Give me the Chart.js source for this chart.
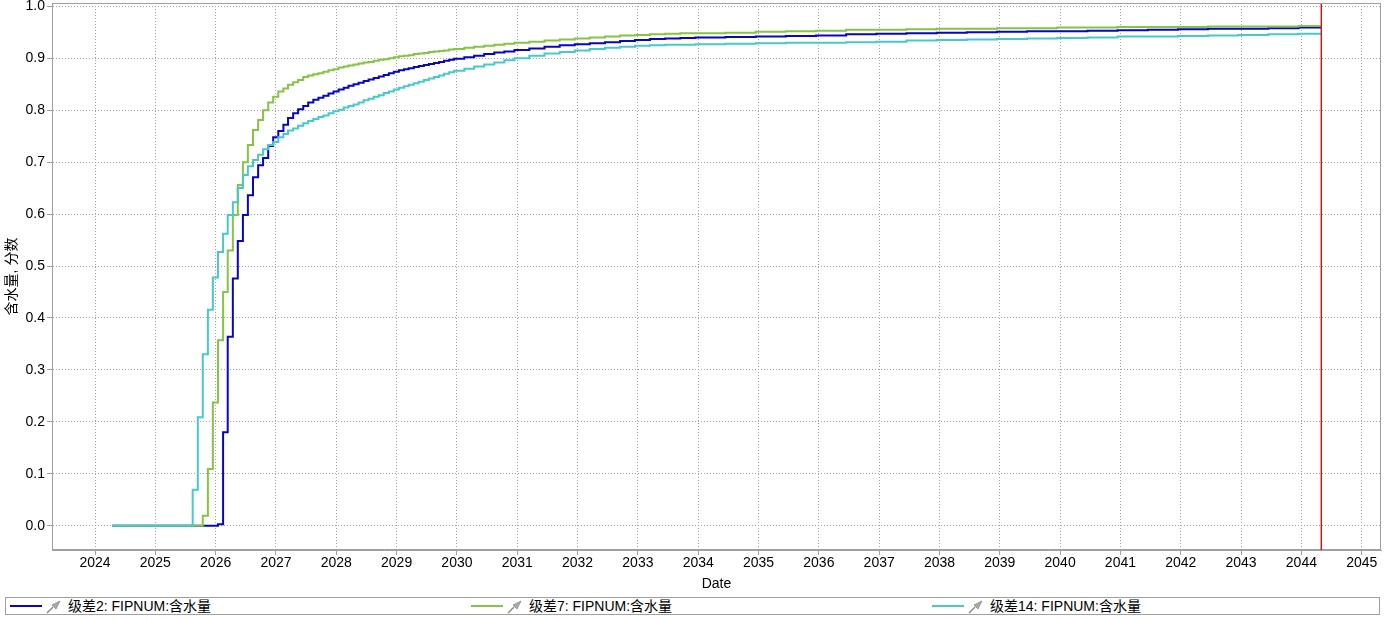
<!DOCTYPE html>
<html>
<head>
<meta charset="utf-8">
<script src="https://cdn.jsdelivr.net/npm/chart.js@4"></script>
<style>
  body { margin: 0; background: #fff; font-family: "Liberation Sans", Arial, "Noto Sans CJK SC", sans-serif; }
  #wrap { position: relative; width: 1384px; height: 620px; }
  #legend { position: absolute; left: 5px; top: 597px; width: 1373px; height: 16px; border: 1px solid #a0a0a0; }
  .item { position: absolute; top: 0; height: 16px; font-size: 14px; line-height: 16px; color: #000; white-space: nowrap; }
  .item .ln { position: absolute; left: 0; top: 7px; width: 32px; height: 2px; }
  .item svg { position: absolute; left: 36px; top: 1px; }
  .item span { position: absolute; left: 58px; top: 0; }
</style>
</head>
<body>
<div id="wrap">
  <canvas id="myChart" width="1384" height="595"></canvas>
  <div id="legend"></div>
</div>
<script>
/* globals Chart:false */

// report dates: monthly while the cut rises, sparser where it is flat
const dates = [
  "2024-04-15",
  "2025-07-15", "2025-08-15", "2025-09-15", "2025-10-15", "2025-11-15", "2025-12-15",
  "2026-01-15", "2026-02-15", "2026-03-15", "2026-04-15", "2026-05-15", "2026-06-15",
  "2026-07-15", "2026-08-15", "2026-09-15", "2026-10-15", "2026-11-15", "2026-12-15",
  "2027-01-15", "2027-02-15", "2027-03-15", "2027-04-15", "2027-05-15", "2027-06-15",
  "2027-07-15", "2027-08-15", "2027-09-15", "2027-10-15", "2027-11-15", "2027-12-15",
  "2028-01-15", "2028-02-15", "2028-03-15", "2028-04-15", "2028-05-15", "2028-06-15",
  "2028-07-15", "2028-08-15", "2028-09-15", "2028-10-15", "2028-11-15", "2028-12-15",
  "2029-01-15", "2029-02-15", "2029-03-15", "2029-04-15", "2029-05-15", "2029-06-15",
  "2029-07-15", "2029-08-15", "2029-09-15", "2029-10-15", "2029-11-15", "2029-12-15",
  "2030-02-15", "2030-04-15", "2030-06-15", "2030-08-15", "2030-10-15", "2030-12-15",
  "2031-03-15", "2031-06-15", "2031-09-15", "2031-12-15",
  "2032-03-15", "2032-06-15", "2032-09-15", "2032-12-15",
  "2033-03-15", "2033-06-15", "2033-09-15", "2033-12-15",
  "2034-06-15", "2034-12-15", "2035-06-15", "2035-12-15", "2036-06-15", "2036-12-15",
  "2037-06-15", "2037-12-15", "2038-06-15", "2038-12-15", "2039-06-15", "2039-12-15",
  "2040-06-15", "2040-12-15", "2041-06-15", "2041-12-15", "2042-06-15", "2042-12-15",
  "2043-06-15", "2043-12-15", "2044-04-27",
];

const wcut2 = [
  0,
  0, 0, 0, 0, 0, 0,
  0.003, 0.18, 0.364, 0.476, 0.548, 0.598,
  0.636, 0.671, 0.694, 0.708, 0.731, 0.748,
  0.760, 0.772, 0.785, 0.794, 0.802, 0.808,
  0.815, 0.820, 0.824, 0.828, 0.832, 0.836,
  0.840, 0.843, 0.847, 0.850, 0.853, 0.856,
  0.859, 0.862, 0.865, 0.868, 0.871, 0.874,
  0.877, 0.879, 0.881, 0.883, 0.885, 0.887,
  0.889, 0.891, 0.893, 0.895, 0.897, 0.899,
  0.902, 0.905, 0.908, 0.911, 0.913, 0.916,
  0.919, 0.922, 0.925, 0.927,
  0.929, 0.931, 0.933, 0.935,
  0.937, 0.938, 0.939, 0.940,
  0.941, 0.942, 0.943, 0.944, 0.946, 0.947,
  0.948, 0.949, 0.950, 0.951, 0.952, 0.952,
  0.953, 0.954, 0.955, 0.956, 0.957, 0.957,
  0.958, 0.959, 0.960,
];

const wcut7 = [
  0,
  0, 0, 0, 0.019, 0.109, 0.237,
  0.357, 0.45, 0.53, 0.598, 0.656, 0.70,
  0.733, 0.762, 0.781, 0.80, 0.815, 0.826,
  0.836, 0.842, 0.849, 0.854, 0.858, 0.864,
  0.867, 0.869, 0.871, 0.874, 0.877, 0.879,
  0.882, 0.884, 0.886, 0.888, 0.890, 0.892,
  0.893, 0.895, 0.897, 0.898, 0.900, 0.902,
  0.904, 0.905, 0.906, 0.908, 0.909, 0.910,
  0.912, 0.913, 0.914, 0.915, 0.917, 0.918,
  0.920, 0.922, 0.924, 0.926, 0.928, 0.930,
  0.932, 0.934, 0.936, 0.938,
  0.940, 0.942, 0.944, 0.945,
  0.946, 0.947, 0.948, 0.948,
  0.949, 0.951, 0.952, 0.953, 0.955, 0.955,
  0.956, 0.957, 0.957, 0.958, 0.958, 0.959,
  0.959, 0.960, 0.960, 0.960, 0.961, 0.961,
  0.961, 0.962, 0.962,
];

const wcut14 = [
  0,
  0, 0.069, 0.209, 0.33, 0.416, 0.478,
  0.527, 0.562, 0.598, 0.623, 0.65, 0.675,
  0.692, 0.704, 0.714, 0.725, 0.733, 0.739,
  0.748, 0.754, 0.761, 0.765, 0.770, 0.775,
  0.779, 0.783, 0.787, 0.790, 0.794, 0.798,
  0.801, 0.805, 0.808, 0.811, 0.815, 0.819,
  0.822, 0.826, 0.829, 0.833, 0.836, 0.840,
  0.843, 0.846, 0.849, 0.852, 0.855, 0.858,
  0.861, 0.864, 0.867, 0.870, 0.873, 0.876,
  0.880, 0.884, 0.888, 0.892, 0.896, 0.900,
  0.905, 0.909, 0.912, 0.915,
  0.918, 0.920, 0.922, 0.924,
  0.925, 0.926, 0.926, 0.927,
  0.928, 0.929, 0.930, 0.930, 0.931, 0.932,
  0.934, 0.935, 0.936, 0.937, 0.938, 0.939,
  0.940, 0.942, 0.942, 0.943, 0.944, 0.945,
  0.946, 0.947, 0.949,
];

const seriesNames = ["级差2: FIPNUM:含水量", "级差7: FIPNUM:含水量", "级差14: FIPNUM:含水量"];
const seriesColors = ["#0606c4", "#86c443", "#48c9c9"];
const yearTicks = [2024, 2025, 2026, 2027, 2028, 2029, 2030, 2031, 2032, 2033, 2034,
  2035, 2036, 2037, 2038, 2039, 2040, 2041, 2042, 2043, 2044, 2045];
const valueTicks = [0, 0.1, 0.2, 0.3, 0.4, 0.5, 0.6, 0.7, 0.8, 0.9, 1.0];

(() => {
  "use strict";

  // "YYYY-MM-DD" -> decimal year
  const toYear = (s) => {
    const [y, m, d] = s.split("-").map(Number);
    const t0 = Date.UTC(y, 0, 1);
    const t1 = Date.UTC(y + 1, 0, 1);
    return y + (Date.UTC(y, m - 1, d) - t0) / (t1 - t0);
  };
  const xs = dates.map(toYear);
  const endYear = xs[xs.length - 1];

  const pts = (vals) => vals.map((v, i) => ({ x: xs[i], y: v }));
  const allSeries = [wcut2, wcut7, wcut14];

  const font = { family: "'Liberation Sans', Arial, 'Noto Sans CJK SC'", size: 14 };

  // frame around the plot + red line at the end of the run
  const framePlugin = {
    id: "frame",
    afterDraw(chart) {
      const { ctx, chartArea: a, scales } = chart;
      ctx.save();
      ctx.strokeStyle = "#a0a0a0";
      ctx.lineWidth = 1;
      ctx.strokeRect(a.left + 0.5, a.top + 0.5, a.right - a.left - 1, a.bottom - a.top - 1);
      const xr = Math.round(scales.x.getPixelForValue(endYear));
      const h = a.bottom - a.top - 1;
      ctx.fillStyle = "rgba(224, 16, 16, 0.45)";
      ctx.fillRect(xr - 1, a.top + 1, 1, h);
      ctx.fillStyle = "#e01010";
      ctx.fillRect(xr, a.top + 1, 1, h);
      ctx.restore();
    },
  };

  const grid = {
    color: "#a4a4a4",
    tickLength: 5,
    tickColor: "#a0a0a0",
    tickBorderDash: [],
  };
  const border = { color: "#a0a0a0", dash: [1, 2] };

  const ctx = document.getElementById("myChart");
  // eslint-disable-next-line no-unused-vars
  const myChart = new Chart(ctx, {
    type: "line",
    data: {
      datasets: allSeries.map((vals, i) => ({
        label: seriesNames[i],
        data: pts(vals),
        stepped: "before",
        borderColor: seriesColors[i],
        backgroundColor: seriesColors[i],
        borderWidth: 2,
        pointRadius: 0,
        fill: false,
        order: 2 - i,
      })),
    },
    options: {
      responsive: false,
      animation: false,
      layout: { padding: { left: 0, top: 3, right: 3, bottom: 0 } },
      plugins: {
        legend: { display: false },
        tooltip: { enabled: false },
      },
      scales: {
        x: {
          type: "linear",
          min: xs[0] - 1,
          max: endYear + 1,
          grid,
          border,
          afterBuildTicks: (s) => { s.ticks = yearTicks.map((v) => ({ value: v })); },
          afterFit: (s) => { s.height = 45; s.paddingLeft = 0; s.paddingRight = 0; },
          ticks: { font, color: "#000", padding: 0, maxRotation: 0, autoSkip: false, callback: (v) => String(v) },
          title: { display: true, text: "Date", font, color: "#000", padding: { top: 0, bottom: 2 } },
        },
        y: {
          min: -0.0468,
          max: 1.0064,
          grid,
          border,
          afterBuildTicks: (s) => { s.ticks = valueTicks.map((v) => ({ value: v })); },
          afterFit: (s) => { s.width = 52; s.paddingTop = 0; s.paddingBottom = 0; },
          ticks: { font, color: "#000", padding: 2, callback: (v) => v.toFixed(1) },
          title: { display: true, text: "含水量, 分数", font, color: "#000", padding: { top: 4, bottom: 0 } },
        },
      },
    },
    plugins: [framePlugin],
  });

  // legend strip
  const pin = '<svg width="16" height="15" viewBox="0 0 16 15">' +
    '<path d="M1 14 L7 8" stroke="#8a8a8a" stroke-width="1.4"/>' +
    '<path d="M6 6 L10 10 L14 2 Z" fill="#a9a9a9" stroke="#8c8c8c" stroke-width="0.8"/></svg>';
  const legend = document.getElementById("legend");
  seriesNames.forEach((name, i) => {
    const it = document.createElement("div");
    it.className = "item";
    it.style.left = (4 + i * 461) + "px";
    it.innerHTML = '<div class="ln" style="background:' + seriesColors[i] + '"></div>' + pin +
      "<span>" + name + "</span>";
    legend.appendChild(it);
  });
})();
</script>
</body>
</html>
